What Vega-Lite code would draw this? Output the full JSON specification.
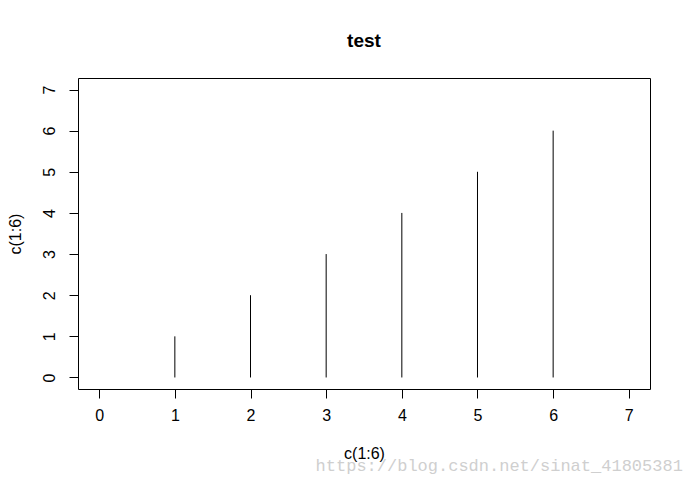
{
  "$schema": "https://vega.github.io/schema/vega-lite/v6.json",
  "width": 572,
  "height": 311,
  "autosize": "none",
  "padding": {"left": 78, "top": 78, "right": 40, "bottom": 98},
  "background": "white",
  "config": {
    "view": {"stroke": "black", "strokeWidth": 1},
    "font": "Liberation Sans"
  },
  "title": {
    "text": "test",
    "font": "Liberation Sans",
    "fontSize": 19,
    "fontWeight": "bold",
    "color": "black",
    "anchor": "middle",
    "offset": 27
  },
  "layer": [
    {
      "data": {"values": [
        {"x": 1, "y": 1}, {"x": 2, "y": 2}, {"x": 3, "y": 3},
        {"x": 4, "y": 4}, {"x": 5, "y": 5}, {"x": 6, "y": 6}
      ]},
      "mark": {"type": "rule", "color": "black", "strokeWidth": 1},
      "encoding": {
        "x": {
          "field": "x", "type": "quantitative",
          "scale": {"domain": [-0.28, 7.28], "nice": false, "zero": false},
          "axis": {
            "values": [0, 1, 2, 3, 4, 5, 6, 7],
            "format": "d",
            "title": "c(1:6)",
            "titleFont": "Liberation Sans", "titleFontSize": 16, "titleFontWeight": "normal", "titleColor": "black",
            "titlePadding": 22,
            "labelFont": "Liberation Sans", "labelFontSize": 16, "labelColor": "black",
            "labelPadding": 9,
            "tickSize": 9, "tickColor": "black",
            "domain": false, "grid": false
          }
        },
        "y": {
          "field": "y", "type": "quantitative",
          "scale": {"domain": [-0.28, 7.28], "nice": false, "zero": false},
          "axis": {
            "values": [0, 1, 2, 3, 4, 5, 6, 7],
            "format": "d",
            "title": "c(1:6)",
            "titleFont": "Liberation Sans", "titleFontSize": 16, "titleFontWeight": "normal", "titleColor": "black",
            "titlePadding": 18,
            "labelFont": "Liberation Sans", "labelFontSize": 16, "labelColor": "black",
            "labelAngle": -90, "labelAlign": "center", "labelBaseline": "alphabetic",
            "labelPadding": 15,
            "tickSize": 9, "tickColor": "black",
            "domain": false, "grid": false
          }
        },
        "y2": {"datum": 0}
      }
    },
    {
      "data": {"values": [{"x": 2.86, "y": -2.15, "label": "https://blog.csdn.net/sinat_41805381"}]},
      "mark": {"type": "text", "font": "Liberation Mono", "fontSize": 17, "color": "#cfcfcf", "align": "left", "baseline": "middle", "clip": false},
      "encoding": {
        "x": {"field": "x", "type": "quantitative"},
        "y": {"field": "y", "type": "quantitative"},
        "text": {"field": "label"}
      }
    }
  ]
}
